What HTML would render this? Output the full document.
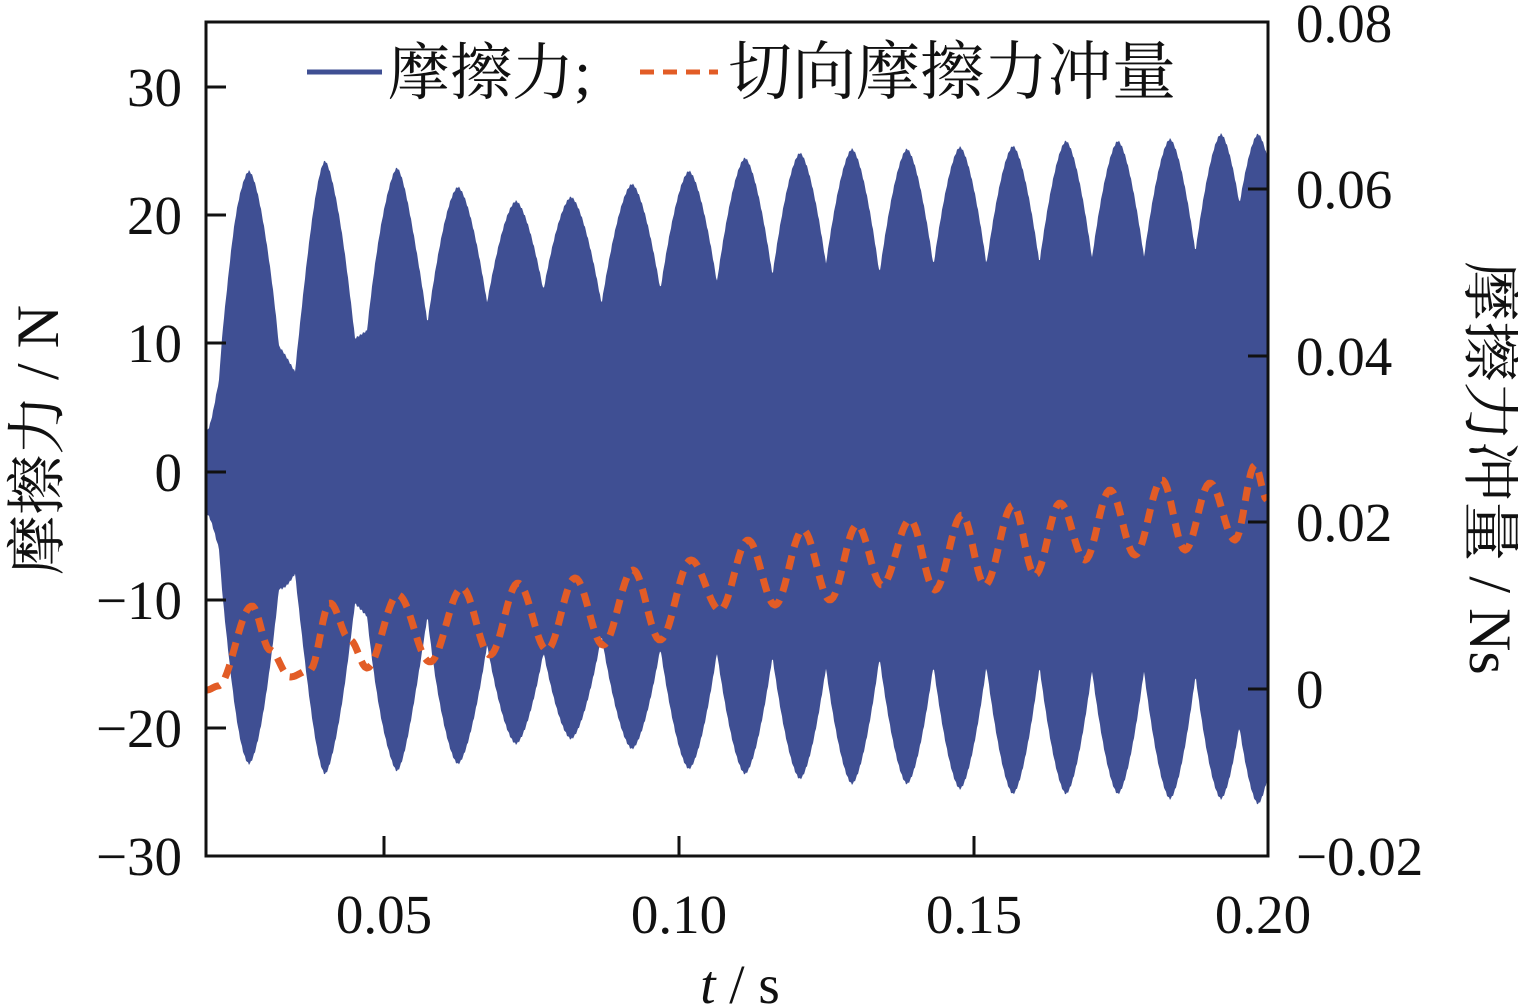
<!DOCTYPE html>
<html><head><meta charset="utf-8"><style>
html,body{margin:0;padding:0;background:#fff;}
svg{display:block;}
text{font-family:"Liberation Serif","Noto Serif CJK SC",serif;fill:#111;}
</style></head><body>
<svg id="s" width="1518" height="1007" viewBox="0 0 1518 1007" xmlns="http://www.w3.org/2000/svg">
<path id="blue" fill="#3f4f93" d=""/>
<path id="orange" fill="none" stroke="#e25c26" stroke-width="7" stroke-dasharray="14 9" stroke-linejoin="round" d=""/>
<rect x="206" y="22" width="1062" height="834" fill="none" stroke="#111" stroke-width="3"/>
<g stroke="#111" stroke-width="3">
<line x1="206" y1="87" x2="226" y2="87"/><line x1="206" y1="215" x2="226" y2="215"/><line x1="206" y1="343" x2="226" y2="343"/><line x1="206" y1="472" x2="226" y2="472"/><line x1="206" y1="600" x2="226" y2="600"/><line x1="206" y1="728" x2="226" y2="728"/>
<line x1="1248" y1="189" x2="1268" y2="189"/><line x1="1248" y1="356" x2="1268" y2="356"/><line x1="1248" y1="522" x2="1268" y2="522"/><line x1="1248" y1="689" x2="1268" y2="689"/>
<line x1="384" y1="856" x2="384" y2="836"/><line x1="679" y1="856" x2="679" y2="836"/><line x1="974" y1="856" x2="974" y2="836"/>
</g>
<g font-size="55" text-anchor="end">
<text x="182" y="106">30</text><text x="182" y="234">20</text><text x="182" y="362">10</text><text x="182" y="491">0</text><text x="182" y="619">−10</text><text x="182" y="747">−20</text><text x="182" y="875">−30</text>
</g>
<g font-size="55" text-anchor="start">
<text x="1296" y="42">0.08</text><text x="1296" y="208">0.06</text><text x="1296" y="375">0.04</text><text x="1296" y="541">0.02</text><text x="1296" y="708">0</text><text x="1296" y="875">−0.02</text>
</g>
<g font-size="55" text-anchor="middle">
<text x="384" y="933">0.05</text><text x="679" y="933">0.10</text><text x="974" y="933">0.15</text><text x="1263" y="933">0.20</text>
<text x="740" y="1003"><tspan font-style="italic">t</tspan> / s</text>
<text font-size="60" transform="translate(58,440) rotate(-90)">摩擦力 / N</text>
<text font-size="60" transform="translate(1470,468) rotate(90)">摩擦力冲量 / Ns</text>
</g>
<line x1="307" y1="72" x2="382" y2="72" stroke="#3f4f93" stroke-width="5"/>
<text x="388" y="94" font-size="62">摩擦力;</text>
<line x1="640" y1="72" x2="718" y2="72" stroke="#e25c26" stroke-width="5" stroke-dasharray="14 9"/>
<text x="728" y="94" font-size="64">切向摩擦力冲量</text>
</svg>
<script>
function interp(pts,x){for(let i=0;i<pts.length-1;i++){const a=pts[i],b=pts[i+1];if(x>=a[0]&&x<=b[0]){const t=(x-a[0])/(b[0]-a[0]);const c=(1-Math.cos(Math.PI*t))/2;return a[1]+(b[1]-a[1])*c;}}return pts[pts.length-1][1];}
const ub=[[206,430],[225,365],[240,330],[270,340],[311,386],[345,340],[380,325],[402,349],[430,318],[469,308],[600,300],[800,292],[1268,285]];
const lb=[[206,515],[225,560],[250,600],[280,590],[311,558],[345,600],[380,625],[402,593],[440,630],[489,640],[700,640],[1268,640]];
const pk=[[249,170,765],[325,160,775],[397,167,772],[458,186,765],[516,200,745],[571,196,740],[632,183,750],[689,170,770],[745,157,775],[800,152,780],[852,148,785],[907,148,785],[960,146,790],[1013,145,795],[1066,140,795],[1118,140,795],[1170,138,800],[1221,133,800],[1258,133,805]];
let up=[],lo=[];
for(let x=207;x<=1267;x++){let u=interp(ub,x),l=interp(lb,x);
 for(const p of pk){const d=Math.abs(x-p[0]);const w=30;if(d<w){const f=Math.pow(d/w,1.6);u=Math.min(u,p[1]+(interp(ub,x)-p[1])*f);l=Math.max(l,p[2]-(p[2]-interp(lb,x))*f);}}
 const j=((x*7)%3);up.push([x,u+j]);lo.push([x,l-j]);}
let d="M"+up.map(p=>p[0]+","+p[1].toFixed(1)).join("L")+"L"+lo.reverse().map(p=>p[0]+","+p[1].toFixed(1)).join("L")+"Z";
document.getElementById("blue").setAttribute("d",d);
const op=[[207,690],[218,686],[252,606],[270,650],[290,677],[310,670],[330,603],[350,640],[367,668],[398,595],[430,662],[462,588],[490,655],[518,583],[547,650],[575,578],[603,645],[633,570],[660,640],[691,560],[720,610],[748,540],[775,605],[803,530],[830,600],[857,525],[882,585],[910,520],[935,590],[962,515],[985,585],[1013,505],[1035,575],[1060,503],[1085,560],[1110,490],[1135,555],[1162,480],[1185,550],[1210,483],[1235,540],[1255,465],[1267,500]];
let od="M";for(let x=207;x<=1267;x+=2){od+=(x>207?"L":"")+x+","+interp(op,x).toFixed(1);}
document.getElementById("orange").setAttribute("d",od);
</script>
</body></html>
